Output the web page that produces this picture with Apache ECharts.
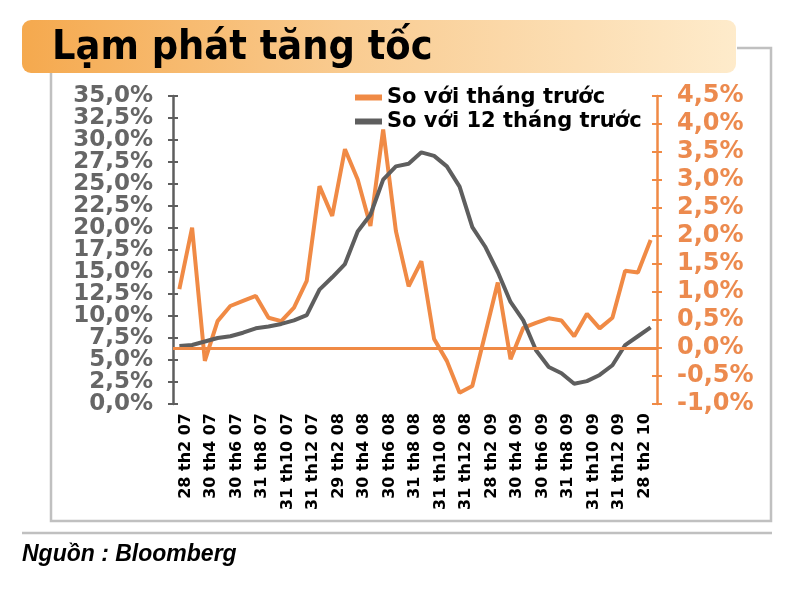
<!DOCTYPE html>
<html><head><meta charset="utf-8">
<script src="https://cdn.jsdelivr.net/npm/echarts@6/dist/echarts.min.js"></script>
<style>html,body{margin:0;padding:0;background:#fff}#c{width:800px;height:600px}</style>
</head><body><div id="c"></div>
<script>
const categories = [
  '28 th2 07','31 th3 07','30 th4 07','31 th5 07','30 th6 07','31 th7 07','31 th8 07','30 th9 07',
  '31 th10 07','30 th11 07','31 th12 07','31 th1 08','29 th2 08','31 th3 08','30 th4 08','31 th5 08',
  '30 th6 08','31 th7 08','31 th8 08','30 th9 08','31 th10 08','30 th11 08','31 th12 08','31 th1 09',
  '28 th2 09','31 th3 09','30 th4 09','31 th5 09','30 th6 09','31 th7 09','31 th8 09','30 th9 09',
  '31 th10 09','30 th11 09','31 th12 09','31 th1 10','28 th2 10','31 th3 10'
];
const monthOnMonth = [
  1.05, 2.15, -0.23, 0.48, 0.75, 0.84, 0.93, 0.54, 0.48, 0.72, 1.20, 2.89, 2.36, 3.55, 3.01, 2.18,
  3.90, 2.09, 1.10, 1.55, 0.16, -0.23, -0.80, -0.68, 0.24, 1.17, -0.20, 0.36, 0.45, 0.53, 0.49, 0.21,
  0.61, 0.35, 0.54, 1.38, 1.35, 1.93
];
const yearOnYear = [
  6.6, 6.7, 7.1, 7.5, 7.7, 8.1, 8.6, 8.8, 9.1, 9.5, 10.1, 13.0, 14.4, 15.9, 19.6, 21.5,
  25.5, 27.0, 27.3, 28.6, 28.2, 27.0, 24.7, 20.1, 17.9, 15.0, 11.6, 9.5, 6.1, 4.2, 3.5, 2.3,
  2.6, 3.3, 4.4, 6.7, 7.7, 8.7
];
const leftTickLabels = ['0,0%','2,5%','5,0%','7,5%','10,0%','12,5%','15,0%','17,5%','20,0%','22,5%','25,0%','27,5%','30,0%','32,5%','35,0%'];
const rightTickLabels = ['-1,0%','-0,5%','0,0%','0,5%','1,0%','1,5%','2,0%','2,5%','3,0%','3,5%','4,0%','4,5%'];
const seriesNames = ['So với tháng trước', 'So với 12 tháng trước'];
const titleText = 'Lạm phát tăng tốc';
const sourceText = 'Nguồn : Bloomberg';

const ORANGE = '#F08A45', ORANGE_TXT = '#EC8A4E', GRAY = '#5E5E5E', GRAY_TXT = '#666666', FRAME = '#C0C0C0';
const FONT = '"DejaVu Sans", Verdana, sans-serif';
const G = {left: 173, right: 143, top: 96, bottom: 196};
const GL = {left: 179, right: 136, top: 96, bottom: 196};
const leftLabelStyle = {margin: 20, color: GRAY_TXT, fontWeight: 'bold', fontSize: 23, lineHeight: 18, fontFamily: FONT,
  showMinLabel: true, showMaxLabel: true, hideOverlap: false};

const chart = echarts.init(document.getElementById('c'));
chart.setOption({
  animation: false,
  grid: [Object.assign({}, G), Object.assign({}, G), Object.assign({}, GL)],
  legend: {
    orient: 'vertical', left: 350, top: 82, itemGap: 3, itemWidth: 27, itemHeight: 6, icon: 'rect',
    data: seriesNames,
    textStyle: {color: '#000', fontWeight: 'bold', fontSize: 21, fontFamily: FONT}
  },
  xAxis: [
    {type: 'category', gridIndex: 0, data: categories, boundaryGap: true,
     axisLine: {show: false}, axisTick: {show: false}, axisLabel: {show: false}},
    {type: 'category', gridIndex: 1, data: categories, show: false},
    {type: 'category', gridIndex: 2, data: categories, boundaryGap: true,
     axisLine: {show: false}, axisTick: {show: false},
     axisLabel: {interval: 1, rotate: 90, margin: 9, color: '#000', fontWeight: 'bold', fontSize: 16, fontFamily: FONT,
       hideOverlap: false}}
  ],
  yAxis: [
    {type: 'value', gridIndex: 0, position: 'left', min: 0, max: 35, interval: 2.5,
     axisLine: {show: true, lineStyle: {color: GRAY, width: 2.5}},
     axisTick: {show: true, length: 5, lineStyle: {color: GRAY, width: 2}},
     splitLine: {show: false},
     axisLabel: Object.assign({}, leftLabelStyle, {formatter: v => {
       const i = Math.round(v / 2.5); return i % 2 === 0 ? leftTickLabels[i] : ''; }})},
    {type: 'value', gridIndex: 0, position: 'right', min: -1, max: 4.5, interval: 0.5,
     axisLine: {show: true, lineStyle: {color: ORANGE, width: 2.5}},
     axisTick: {show: true, length: 5, lineStyle: {color: ORANGE, width: 2}},
     splitLine: {show: false},
     axisLabel: {margin: 20, color: ORANGE_TXT, fontWeight: 'bold', fontSize: 24, lineHeight: 20, fontFamily: FONT,
       showMinLabel: true, showMaxLabel: true, hideOverlap: false,
       formatter: v => rightTickLabels[Math.round((v + 1) / 0.5)]}},
    {type: 'value', gridIndex: 1, position: 'left', min: 0, max: 35, interval: 2.5,
     axisLine: {show: false}, splitLine: {show: false},
     axisTick: {show: true, inside: true, length: 5, lineStyle: {color: GRAY, width: 2}},
     axisLabel: Object.assign({}, leftLabelStyle, {formatter: v => {
       const i = Math.round(v / 2.5); return i % 2 === 1 ? leftTickLabels[i] : ''; }})},
    {type: 'value', gridIndex: 1, position: 'right', min: -1, max: 4.5, interval: 0.5,
     axisLine: {show: false}, axisLabel: {show: false}, splitLine: {show: false},
     axisTick: {show: true, inside: true, length: 5, lineStyle: {color: ORANGE, width: 2}}},
    {type: 'value', gridIndex: 2, min: 0, max: 1, show: false}
  ],
  series: [
    {name: seriesNames[0], type: 'line', xAxisIndex: 0, yAxisIndex: 1, data: monthOnMonth,
     symbol: 'none', color: ORANGE, lineStyle: {color: ORANGE, width: 4}, z: 2,
     markLine: {silent: true, symbol: 'none', label: {show: false},
       lineStyle: {color: ORANGE, width: 3, type: 'solid'}, data: [{yAxis: 0}]}},
    {name: seriesNames[1], type: 'line', xAxisIndex: 0, yAxisIndex: 0, data: yearOnYear,
     symbol: 'none', color: GRAY, lineStyle: {color: GRAY, width: 4}, z: 3}
  ],
  graphic: [
    {type: 'polyline', z: 1, shape: {points: [[737, 48], [771, 48], [771, 521], [51, 521], [51, 73]]},
     style: {stroke: FRAME, lineWidth: 2.5, fill: null}},
    {type: 'line', z: 1, shape: {x1: 22, y1: 533, x2: 772, y2: 533}, style: {stroke: FRAME, lineWidth: 2.5}},
    {type: 'rect', z: 2, shape: {x: 22, y: 20, width: 714, height: 53, r: 9},
     style: {fill: new echarts.graphic.LinearGradient(0, 0, 1, 0, [
       {offset: 0, color: '#F5A94E'}, {offset: 0.45, color: '#F9CB90'}, {offset: 1, color: '#FEEBCB'}])}},
    {type: 'text', z: 3, x: 52, y: 48,
     style: {text: titleText, fill: '#000', font: 'bold 41px "DejaVu Sans Condensed", "DejaVu Sans", sans-serif', verticalAlign: 'middle'}},
    {type: 'text', z: 3, x: 22, y: 555,
     style: {text: sourceText, fill: '#000', font: 'italic bold 23px "Liberation Sans", Arial, sans-serif', verticalAlign: 'middle'}}
  ]
});
</script>
</body></html>
